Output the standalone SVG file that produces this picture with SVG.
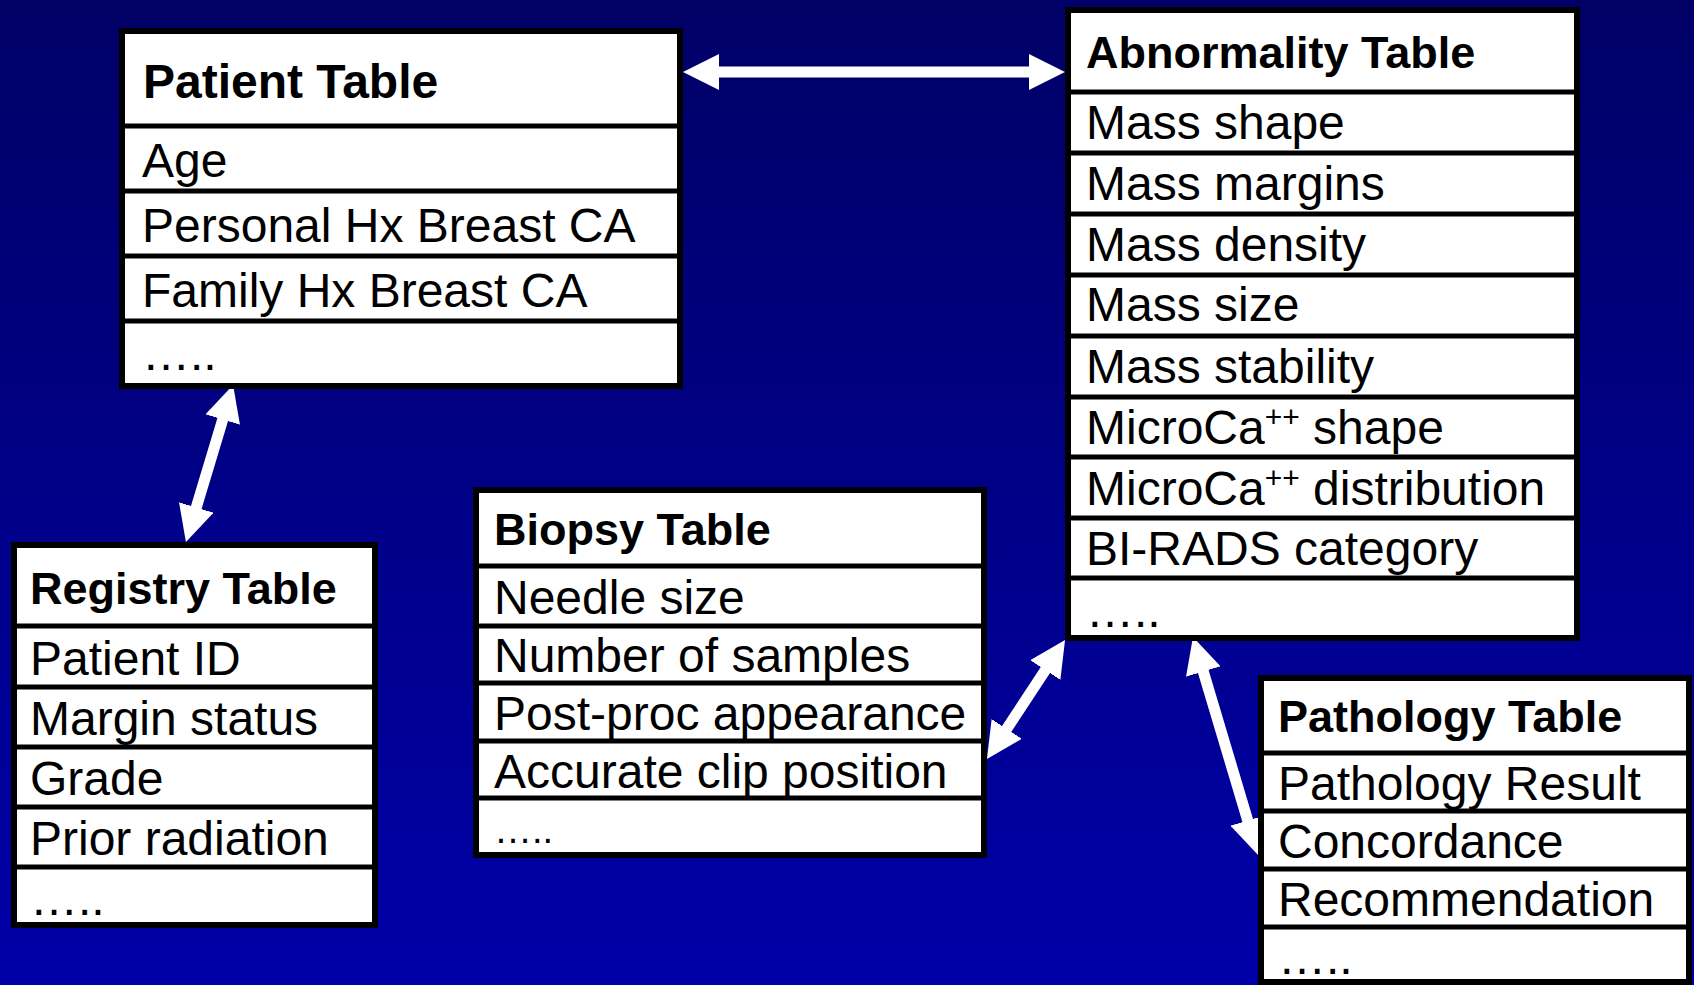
<svg xmlns="http://www.w3.org/2000/svg" width="1694" height="985" viewBox="0 0 1694 985">
<defs>
<linearGradient id="bg" x1="0" y1="0" x2="0" y2="1">
<stop offset="0" stop-color="#000066"/>
<stop offset="1" stop-color="#0000A8"/>
</linearGradient>
<marker id="ah" viewBox="0 0 36 36" markerWidth="36" markerHeight="36" markerUnits="userSpaceOnUse" refX="2" refY="18" orient="auto-start-reverse">
<path d="M0,0 L36,18 L0,36 Z" fill="#ffffff"/>
</marker>
<style>
.box{fill:#ffffff;stroke:#000000;stroke-width:6}
.sep{stroke:#000000;stroke-width:5}
.t{font-family:"Liberation Sans",Arial,sans-serif;font-size:48px;fill:#000000}
.h{font-family:"Liberation Sans",Arial,sans-serif;font-size:45px;font-weight:bold;fill:#000000}
.sup{font-size:30px}
.arr{stroke:#ffffff;stroke-width:11;fill:none;marker-start:url(#ah);marker-end:url(#ah)}
</style>
</defs>
<rect x="0" y="0" width="1694" height="985" fill="url(#bg)"/>

<g id="connectors">
<line class="arr" x1="717" y1="72" x2="1031" y2="72"/>
<line class="arr" x1="223.3" y1="417.6" x2="195.7" y2="509.4"/>
<line class="arr" x1="1046.4" y1="668.4" x2="1005.6" y2="730.6"/>
<line class="arr" x1="1202.7" y1="669.6" x2="1248.3" y2="822.4"/>
</g>

<g id="patient">
<rect class="box" x="122" y="31" width="558" height="355"/>
<line class="sep" x1="122" y1="126" x2="680" y2="126"/>
<line class="sep" x1="122" y1="191" x2="680" y2="191"/>
<line class="sep" x1="122" y1="256" x2="680" y2="256"/>
<line class="sep" x1="122" y1="321" x2="680" y2="321"/>
<text class="h" x="143" y="98" style="font-size:48px">Patient Table</text>
<text class="t" x="142" y="177">Age</text>
<text class="t" x="142" y="242">Personal Hx Breast CA</text>
<text class="t" x="142" y="307">Family Hx Breast CA</text>
<text class="t" x="142" y="370">…..</text>
</g>

<g id="abnormality">
<rect class="box" x="1068" y="10" width="509" height="628"/>
<line class="sep" x1="1068" y1="92" x2="1577" y2="92"/>
<line class="sep" x1="1068" y1="153" x2="1577" y2="153"/>
<line class="sep" x1="1068" y1="214" x2="1577" y2="214"/>
<line class="sep" x1="1068" y1="275" x2="1577" y2="275"/>
<line class="sep" x1="1068" y1="336" x2="1577" y2="336"/>
<line class="sep" x1="1068" y1="397" x2="1577" y2="397"/>
<line class="sep" x1="1068" y1="457" x2="1577" y2="457"/>
<line class="sep" x1="1068" y1="518" x2="1577" y2="518"/>
<line class="sep" x1="1068" y1="578" x2="1577" y2="578"/>
<text class="h" x="1086" y="68">Abnormality Table</text>
<text class="t" x="1086" y="139">Mass shape</text>
<text class="t" x="1086" y="200">Mass margins</text>
<text class="t" x="1086" y="261">Mass density</text>
<text class="t" x="1086" y="321">Mass size</text>
<text class="t" x="1086" y="383">Mass stability</text>
<text class="t" x="1086" y="444">MicroCa<tspan class="sup" dy="-17">++</tspan><tspan dy="17"> shape</tspan></text>
<text class="t" x="1086" y="505">MicroCa<tspan class="sup" dy="-17">++</tspan><tspan dy="17"> distribution</tspan></text>
<text class="t" x="1086" y="565">BI-RADS category</text>
<text class="t" x="1086" y="627">…..</text>
</g>

<g id="registry">
<rect class="box" x="14" y="545" width="361" height="380"/>
<line class="sep" x1="14" y1="626" x2="375" y2="626"/>
<line class="sep" x1="14" y1="687" x2="375" y2="687"/>
<line class="sep" x1="14" y1="747" x2="375" y2="747"/>
<line class="sep" x1="14" y1="807" x2="375" y2="807"/>
<line class="sep" x1="14" y1="867" x2="375" y2="867"/>
<text class="h" x="30" y="604">Registry Table</text>
<text class="t" x="30" y="675">Patient ID</text>
<text class="t" x="30" y="735">Margin status</text>
<text class="t" x="30" y="795">Grade</text>
<text class="t" x="30" y="855">Prior radiation</text>
<text class="t" x="30" y="915">…..</text>
</g>

<g id="biopsy">
<rect class="box" x="476" y="490" width="508" height="365"/>
<line class="sep" x1="476" y1="566" x2="984" y2="566"/>
<line class="sep" x1="476" y1="626" x2="984" y2="626"/>
<line class="sep" x1="476" y1="683" x2="984" y2="683"/>
<line class="sep" x1="476" y1="741" x2="984" y2="741"/>
<line class="sep" x1="476" y1="798" x2="984" y2="798"/>
<text class="h" x="494" y="545">Biopsy Table</text>
<text class="t" x="494" y="614">Needle size</text>
<text class="t" x="494" y="672">Number of samples</text>
<text class="t" x="494" y="730">Post-proc appearance</text>
<text class="t" x="494" y="788">Accurate clip position</text>
<text class="t" x="494" y="843" style="font-size:38px">…..</text>
</g>

<g id="pathology">
<rect class="box" x="1261" y="678" width="428" height="304"/>
<line class="sep" x1="1261" y1="753" x2="1689" y2="753"/>
<line class="sep" x1="1261" y1="811" x2="1689" y2="811"/>
<line class="sep" x1="1261" y1="869" x2="1689" y2="869"/>
<line class="sep" x1="1261" y1="927" x2="1689" y2="927"/>
<text class="h" x="1278" y="732">Pathology Table</text>
<text class="t" x="1278" y="800">Pathology Result</text>
<text class="t" x="1278" y="858">Concordance</text>
<text class="t" x="1278" y="916">Recommendation</text>
<text class="t" x="1278" y="974">…..</text>
</g>
</svg>
